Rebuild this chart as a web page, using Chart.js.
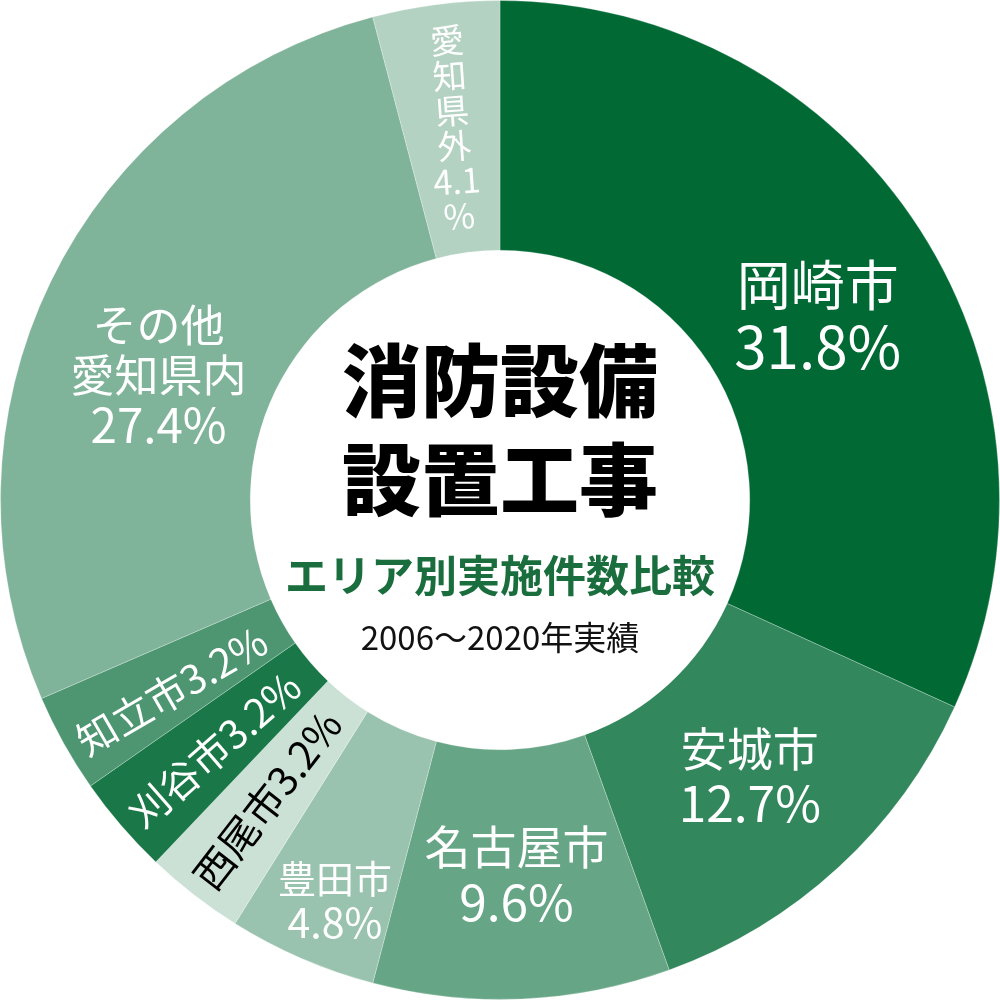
<!DOCTYPE html>
<html lang="ja">
<head>
<meta charset="utf-8">
<title>消防設備設置工事 エリア別実施件数比較</title>
<script src="https://cdn.jsdelivr.net/npm/chart.js@4.4.1/dist/chart.umd.min.js"></script>
<style>
  html, body { margin: 0; padding: 0; background: #ffffff; }
  #wrap { width: 1000px; height: 1000px; }
  canvas { display: block; }
</style>
</head>
<body>
<div id="wrap"><canvas id="c" width="1000" height="1000"></canvas></div>
<script>
// ---- data ----
const categories = ['岡崎市', '安城市', '名古屋市', '豊田市', '西尾市', '刈谷市', '知立市', 'その他愛知県内', '愛知県外'];
const shares = [31.8, 12.7, 9.6, 4.8, 3.2, 3.2, 3.2, 27.4, 4.1];
const nameLines = [['岡崎市'], ['安城市'], ['名古屋市'], ['豊田市'], ['西尾市'], ['刈谷市'], ['知立市'], ['その他', '愛知県内'], ['愛', '知', '県', '外']];
const centerTitle = ['消防設備', '設置工事'];
const centerSubtitle = 'エリア別実施件数比較';
const centerNote = '2006〜2020年実績';

// ---- styles ----
const sliceColors = ['#006934', '#33875d', '#66a585', '#99c3ae', '#cce1d6', '#1a7848', '#4d9671', '#80b49a', '#b3d2c2'];
const FONT = "'Noto Sans CJK JP', 'Noto Sans', sans-serif";
// mode: h = horizontal block, r = along radius, v = vertical column
// r: position between inner (0) and outer (1) radius; shift: degrees added to slice middle
const labelPlacement = [
  { mode: 'h', r: 0.47, shift: 2.7, size: 54, lh: 61, color: '#ffffff' },
  { mode: 'h', r: 0.49, shift: 0.5, size: 46, lh: 54, color: '#ffffff' },
  { mode: 'h', r: 0.50, shift: 0, size: 46, lh: 56, color: '#ffffff' },
  { mode: 'h', r: 0.735, shift: -1, size: 38, lh: 44, color: '#ffffff' },
  { mode: 'r', r: 0.52, shift: 0, size: 40, color: '#000000' },
  { mode: 'r', r: 0.52, shift: -0.5, size: 40, color: '#ffffff' },
  { mode: 'r', r: 0.52, shift: -1, size: 40, color: '#ffffff' },
  { mode: 'h', r: 0.456, shift: -5.8, size: 44, lh: 50, color: '#ffffff' },
  { mode: 'v', r: 0.50, shift: 0.2, size: 34, lh: 35.2, tilt: -4, color: '#ffffff' }
];
const valueScale = 1.08;

function pct(v) { return v.toFixed(1) + '%'; }

const sliceLabelPlugin = {
  id: 'sliceLabels',
  afterDatasetsDraw(chart) {
    const ctx = chart.ctx;
    const meta = chart.getDatasetMeta(0);
    meta.data.forEach((arc, i) => {
      const p = labelPlacement[i];
      const props = arc.getProps(['x', 'y', 'startAngle', 'endAngle', 'innerRadius', 'outerRadius'], true);
      const mid = (props.startAngle + props.endAngle) / 2 + p.shift * Math.PI / 180;
      const rad = props.innerRadius + (props.outerRadius - props.innerRadius) * p.r;
      const cx = props.x + Math.cos(mid) * rad;
      const cy = props.y + Math.sin(mid) * rad;
      ctx.save();
      ctx.fillStyle = p.color;
      ctx.font = '400 ' + p.size + 'px ' + FONT;
      ctx.textAlign = 'center';
      ctx.textBaseline = 'middle';
      if (p.mode === 'h') {
        const lines = nameLines[i].concat([pct(shares[i])]);
        const top = cy - (lines.length - 1) * p.lh / 2;
        lines.forEach((t, k) => {
          const isValue = k === lines.length - 1;
          ctx.font = '400 ' + (isValue ? p.size * valueScale : p.size) + 'px ' + FONT;
          ctx.fillText(t, cx, top + k * p.lh);
        });
      } else if (p.mode === 'r') {
        ctx.translate(cx, cy);
        ctx.rotate(mid + Math.PI);
        ctx.fillText(nameLines[i].join('') + pct(shares[i]), 0, 0);
      } else {
        const v = pct(shares[i]);
        const lines = nameLines[i].concat([v.slice(0, -1), '%']);
        ctx.translate(cx, cy);
        ctx.rotate(p.tilt * Math.PI / 180);
        const top = -(lines.length - 1) * p.lh / 2;
        lines.forEach((t, k) => ctx.fillText(t, 0, top + k * p.lh));
      }
      ctx.restore();
    });
  }
};

const centerTextPlugin = {
  id: 'centerText',
  afterDraw(chart) {
    const ctx = chart.ctx;
    const arc = chart.getDatasetMeta(0).data[0];
    const x = arc.x, y = arc.y;
    ctx.save();
    ctx.textAlign = 'center';
    ctx.textBaseline = 'middle';
    ctx.fillStyle = '#000000';
    ctx.font = '900 79px ' + FONT;
    ctx.fillText(centerTitle[0], x, y - 119);
    ctx.fillText(centerTitle[1], x, y - 20);
    ctx.fillStyle = '#1a6e3d';
    ctx.font = '700 43px ' + FONT;
    ctx.fillText(centerSubtitle, x, y + 76);
    ctx.fillStyle = '#111111';
    ctx.font = '400 33px ' + FONT;
    ctx.fillText(centerNote, x, y + 137);
    ctx.restore();
  }
};

function build() {
  new Chart(document.getElementById('c'), {
    type: 'doughnut',
    data: {
      labels: categories,
      datasets: [{
        data: shares,
        backgroundColor: sliceColors,
        borderColor: 'rgba(255,255,255,0.25)',
        borderWidth: 1
      }]
    },
    options: {
      responsive: false,
      animation: false,
      devicePixelRatio: 1,
      cutout: '50%',
      layout: { padding: 0 },
      plugins: { legend: { display: false }, tooltip: { enabled: false } }
    },
    plugins: [sliceLabelPlugin, centerTextPlugin]
  });
}

const loads = ['400 40px "Noto Sans CJK JP"', '700 40px "Noto Sans CJK JP"', '900 40px "Noto Sans CJK JP"']
  .map(f => (document.fonts && document.fonts.load) ? document.fonts.load(f, '消防設備2').catch(() => null) : Promise.resolve());
Promise.all(loads).then(build, build);
</script>
</body>
</html>
